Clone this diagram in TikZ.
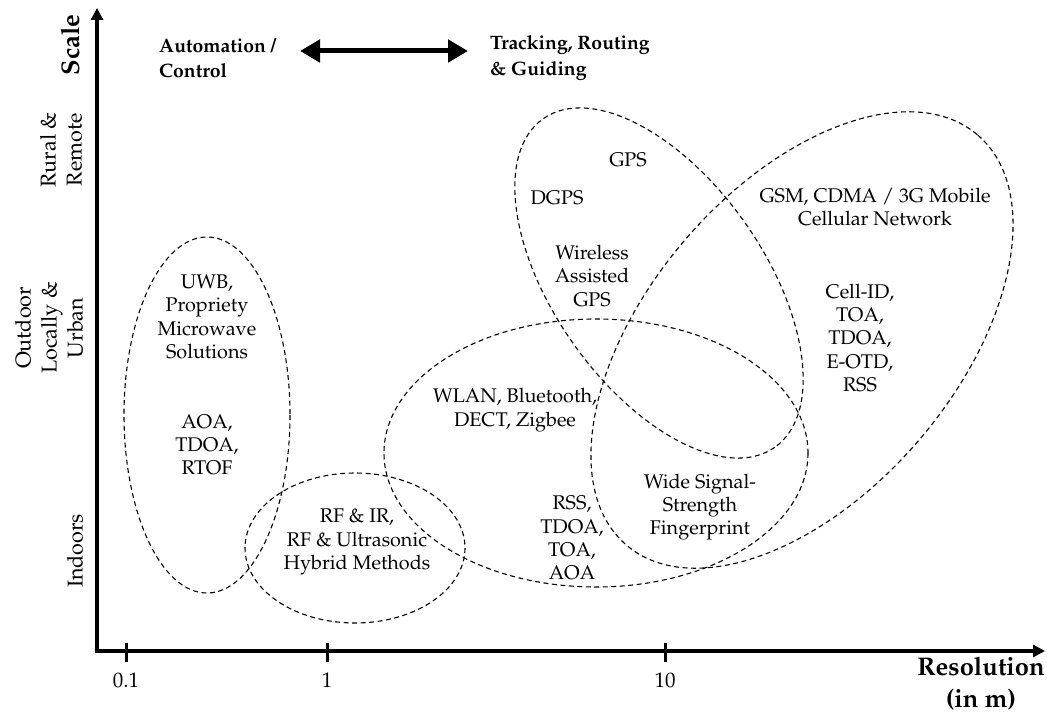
\documentclass[tikz,border=0pt]{standalone}
\usepackage[T1]{fontenc}
\renewcommand{\rmdefault}{ppl}
\usetikzlibrary{arrows.meta}
\begin{document}
\begin{tikzpicture}[x=1pt,y=-1pt,
  txt/.style={font=\fontsize{19.8}{23.3}\selectfont, align=center, inner sep=0pt},
  boldtxt/.style={font=\fontsize{19.4}{25.5}\selectfont\bfseries, inner sep=0pt},
  bigbold/.style={font=\fontsize{25.5}{32}\selectfont\bfseries, inner sep=0pt, align=center},
  zone/.style={draw, line width=1.1pt, dash pattern=on 5pt off 3.5pt},
  axis/.style={line width=3.6pt, line join=miter,
    {Triangle[length=12pt,width=12pt]}-{Triangle[length=12pt,width=12pt]}},
  tickmark/.style={line width=3pt},
  ticklabel/.style={font=\fontsize{21}{24}\selectfont, inner sep=0pt},
  scalelabel/.style={font=\fontsize{21.5}{26}\selectfont, align=center, inner sep=0pt, rotate=90},
  ]
\useasboundingbox (0,0) rectangle (1047,714);

% axes
\coordinate (ytip) at (97,8);
\coordinate (origin) at (97,651);
\coordinate (xtip) at (1045,651);
\draw[axis] (ytip) -- (origin) -- (xtip);

% ticks on the resolution axis
\draw[tickmark] (126,643) -- (126,662);
\draw[tickmark] (327,643) -- (327,662);
\draw[tickmark] (665,643) -- (665,662);
\node[ticklabel] (t01) at (126,680) {0.1};
\node[ticklabel] (t1)  at (327,680) {1};
\node[ticklabel] (t10) at (665,680) {10};
\node[bigbold] (res) at (981,684) {Resolution\\(in m)};

% scale axis labels
\node[bigbold, rotate=90] (scale) at (70,45) {Scale};
\node[scalelabel] (rural)   at (61,150) {Rural \&\\Remote};
\node[scalelabel] (outdoor) at (49,328) {Outdoor\\Locally \&\\Urban};
\node[scalelabel] (indoors) at (75,551) {Indoors};

% application range
\node[boldtxt, align=left, anchor=west] (auto)  at (159,58) {Automation /\\Control};
\node[boldtxt, align=left, anchor=west] (track) at (490,58) {Tracking, Routing\\\& Guiding};
\coordinate (dl) at (300,51);
\coordinate (dr) at (468,51);
\draw[line width=5pt, {Triangle[length=20pt,width=22pt]}-{Triangle[length=20pt,width=22pt]}] (dl) -- (dr);

% technology zones
\draw[zone] (207,415) ellipse [x radius=83, y radius=178];
\draw[zone] (355,548) ellipse [x radius=110, y radius=75];
\draw[zone] (596,453) ellipse [x radius=212, y radius=134];
\draw[zone, rotate around={-54.8:(659,283)}] (659,283) ellipse [x radius=201, y radius=105];
\draw[zone, rotate around={49.4:(802,340)}] (802,340) ellipse [x radius=270, y radius=154];

% zone texts
\node[txt] (uwb)   at (207,317) {UWB,\\Propriety\\Microwave\\Solutions};
\node[txt] (uwbm)  at (207,445) {AOA,\\TDOA,\\RTOF};
\node[txt] (rf)    at (357,542) {RF \& IR,\\RF \& Ultrasonic\\Hybrid Methods};
\node[txt] (wlan)  at (515,410) {WLAN, Bluetooth,\\DECT, Zigbee};
\node[txt] (wlanm) at (572,538) {RSS,\\TDOA,\\TOA,\\AOA};
\node[txt] (wide)  at (700,507) {Wide Signal-\\Strength\\Fingerprint};
\node[txt] (gps)   at (628,160) {GPS};
\node[txt] (dgps)  at (557,198) {DGPS};
\node[txt] (agps)  at (592,276) {Wireless\\Assisted\\GPS};
\node[txt] (gsm)   at (875,207) {GSM, CDMA / 3G Mobile\\Cellular Network};
\node[txt] (gsmm)  at (860,338) {Cell-ID,\\TOA,\\TDOA,\\E-OTD,\\RSS};
\end{tikzpicture}
\end{document}
